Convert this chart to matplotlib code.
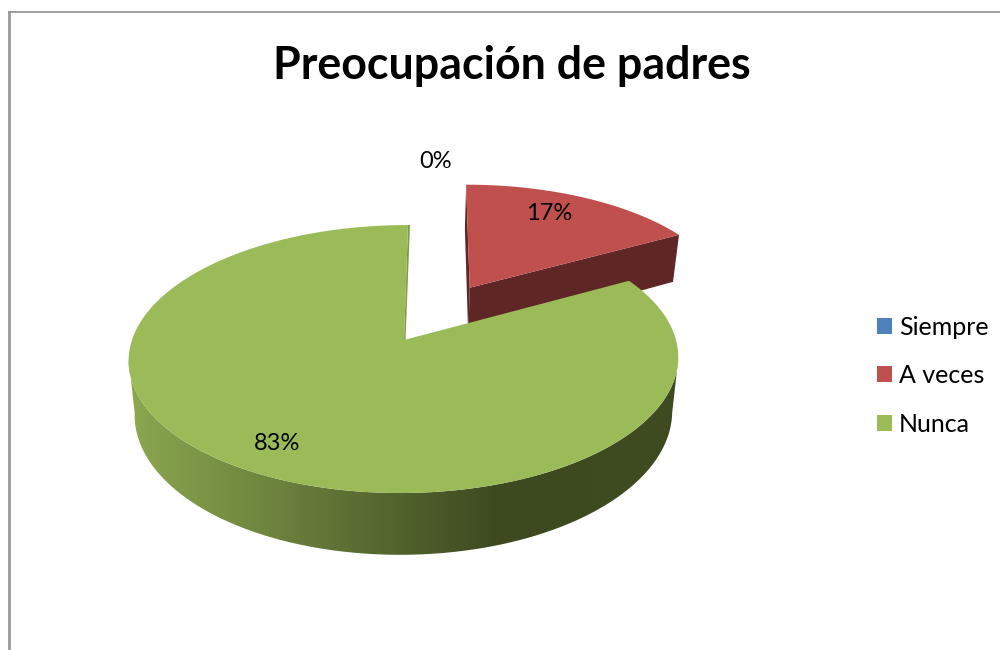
import numpy as np
import matplotlib
matplotlib.use("Agg")
import matplotlib.pyplot as plt
from matplotlib.colors import LinearSegmentedColormap
from matplotlib.patches import Patch, Polygon

title = "Preocupación de padres"
categories = ["Siempre", "A veces", "Nunca"]
values = [0, 17, 83]
colors = ["#4F81BD", "#C0504D", "#9BBB59"]

plt.rcParams['font.family'] = ['Lato', 'DejaVu Sans']

# pie geometry in pixels, perspective of the 3d tilt
CX, CY = 404, 340
RX, RY = 272, 131.3
PERSP = 0.142
SKEW = 4
DEPTH = 53
SHRINK = 0.022
EXPLODE = 0.49


def project(u, v, z=0.0):
    d = 1 + PERSP * v
    x = CX + SKEW * v + RX * u / d * (1 - SHRINK * z)
    y = CY - RY * v / d + DEPTH * z / d
    return x, y


def rim(a0, a1, z=0.0, off=(0, 0), n=200):
    t = np.radians(np.linspace(a0, a1, n))
    return project(np.sin(t) + off[0], np.cos(t) + off[1], z)


def poly(x, y, **kw):
    p = Polygon(np.column_stack([x, y]), closed=True, linewidth=0, **kw)
    ax.add_patch(p)
    return p


fig = plt.figure(figsize=(10, 6.5), dpi=100)
ax = fig.add_axes([0, 0, 1, 1])
ax.set_xlim(0, 1000)
ax.set_ylim(650, 0)
ax.axis('off')

# chart frame, cut by the image on the right and bottom
ax.plot([9.2, 9.2], [650, 11], color="#9a9a9a", lw=2.0, solid_capstyle='butt')
ax.plot([8, 1000], [11.5, 11.5], color="#8e8e8e", lw=1.2, solid_capstyle='butt')

cum = np.cumsum([0] + values)
angles = cum * 360.0 / cum[-1]

# red slice (exploded), sides first
a0, a1 = angles[1], angles[2]
mid = np.radians((a0 + a1) / 2)
off = (EXPLODE * np.sin(mid), EXPLODE * np.cos(mid))
ax0, ay0 = project(off[0], off[1])
ax1, ay1 = project(off[0], off[1], 1)
tx, ty = rim(a0, a1, 0, off)
bx, by = rim(a0, a1, 1, off)
poly([ax0, tx[-1], bx[-1], ax1], [ay0, ty[-1], by[-1], ay1], facecolor="#5E2624")
poly([ax0, tx[0], bx[0], ax1], [ay0, ty[0], by[0], ay1], facecolor="#5E2624")
poly(np.r_[ax0, tx], np.r_[ay0, ty], facecolor=colors[1])

# green slice, not exploded
a0, a1 = angles[2], angles[3]
sil = np.degrees(np.arccos(-PERSP))
tx, ty = rim(sil, 360 - sil)
bx, by = rim(sil, 360 - sil, 1)
side = poly(np.r_[tx, bx[::-1]], np.r_[ty, by[::-1]], facecolor='none')
shade = LinearSegmentedColormap.from_list("shade", [(0, "#8CA850"), (0.66, "#3D4A20"), (1, "#3F4C21")])
grad = ax.imshow(np.linspace(0, 1, 256)[None, :], cmap=shade, aspect='auto',
                 extent=[bx.min() - 8, tx.max() + 8, 650, 0], zorder=1)
grad.set_clip_path(side)
ax.set_xlim(0, 1000)
ax.set_ylim(650, 0)

# inner wall showing next to the 12 o'clock cut
ox, oy = project(0, 0)
ex, ey = rim(a1, a1, 0, n=1)
poly([ox, ex[0], ex[0] + 2, ox + 1.5], [oy, ey[0], ey[0], oy], facecolor="#7F9A48", zorder=2)
tx, ty = rim(a0, a1)
poly(np.r_[ox, tx], np.r_[oy, ty], facecolor=colors[2], zorder=3)

# percent labels sit where the chart put them, not on a fixed radius
label_x = [436, 549, 277]
label_y = [162, 213, 443]
for val, lx, ly in zip(values, label_x, label_y):
    ax.text(lx, ly, f"{val}%", fontsize=17, color="black", ha='center', va='center', zorder=5)

ax.text(512, 66, title, fontsize=32.2, fontweight='bold', color="black", ha='center', va='center')

handles = [Patch(facecolor=c, edgecolor='none') for c in colors]
ax.legend(handles, categories, loc='center left', bbox_to_anchor=(0.877, 0.422), frameon=False,
          fontsize=18, handlelength=0.6, handleheight=0.6, handletextpad=0.28, labelspacing=1.02,
          borderpad=0, borderaxespad=0)

fig.savefig("out.png", dpi=100)
